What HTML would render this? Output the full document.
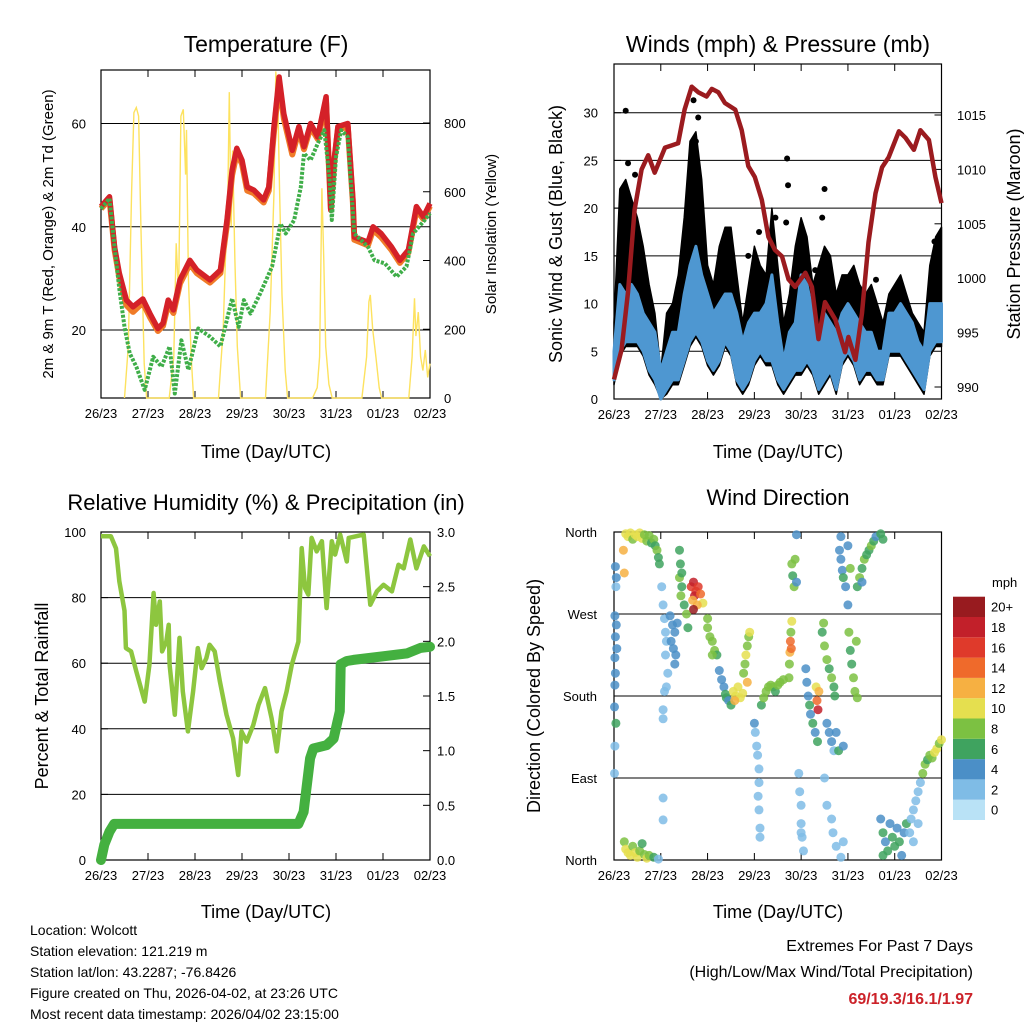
<!DOCTYPE html>
<html><head><meta charset="utf-8"><style>
html,body{margin:0;padding:0;background:#fff;}
svg{display:block;font-family:"Liberation Sans",Arial,sans-serif;}
</style></head><body>
<svg id="c" width="1024" height="1024" viewBox="0 0 1024 1024" xmlns="http://www.w3.org/2000/svg">
<g><text x="266" y="52" font-size="23" text-anchor="middle">Temperature (F)</text></g>
<g><text x="778" y="52" font-size="23" text-anchor="middle">Winds (mph) &amp; Pressure (mb)</text></g>
<g><text x="266" y="510" font-size="22" text-anchor="middle">Relative Humidity (%) &amp; Precipitation (in)</text></g>
<g><text x="778" y="505" font-size="22" text-anchor="middle">Wind Direction</text></g>
<text transform="translate(53,234) rotate(-90)" font-size="15" text-anchor="middle">2m &amp; 9m T (Red, Orange) &amp; 2m Td (Green)</text>
<text transform="translate(496,234) rotate(-90)" font-size="15" text-anchor="middle">Solar Insolation (Yellow)</text>
<text transform="translate(562,234) rotate(-90)" font-size="18" text-anchor="middle">Sonic Wind &amp; Gust (Blue, Black)</text>
<text transform="translate(1020,234) rotate(-90)" font-size="18" text-anchor="middle">Station Pressure (Maroon)</text>
<text transform="translate(48,696) rotate(-90)" font-size="18" text-anchor="middle">Percent &amp; Total Rainfall</text>
<text transform="translate(540,696) rotate(-90)" font-size="18" text-anchor="middle">Direction (Colored By Speed)</text>
<text x="266" y="458" font-size="18" text-anchor="middle">Time (Day/UTC)</text>
<text x="778" y="458" font-size="18" text-anchor="middle">Time (Day/UTC)</text>
<text x="266" y="918" font-size="18" text-anchor="middle">Time (Day/UTC)</text>
<text x="778" y="918" font-size="18" text-anchor="middle">Time (Day/UTC)</text>
<g font-size="14">
<text x="30" y="935">Location: Wolcott</text>
<text x="30" y="956">Station elevation: 121.219 m</text>
<text x="30" y="977">Station lat/lon: 43.2287; -76.8426</text>
<text x="30" y="998">Figure created on Thu, 2026-04-02, at 23:26 UTC</text>
<text x="30" y="1019">Most recent data timestamp: 2026/04/02 23:15:00</text>
</g>
<g font-size="16" text-anchor="end">
<text x="973" y="951">Extremes For Past 7 Days</text>
<text x="973" y="977">(High/Low/Max Wind/Total Precipitation)</text>
<text x="973" y="1004" fill="#cc2229" font-weight="bold">69/19.3/16.1/1.97</text>
</g>
<g id="layers"></g>
</svg>
<script>
const dayLabels=["26/23","27/23","28/23","29/23","30/23","31/23","01/23","02/23"];
// Temperature
const tempT=[0,0.18,0.29,0.39,0.54,0.68,0.89,1.04,1.21,1.32,1.43,1.54,1.68,1.89,2.04,2.32,2.54,2.68,2.79,2.89,3.0,3.11,3.25,3.46,3.57,3.68,3.79,3.89,4.07,4.21,4.32,4.46,4.61,4.79,4.89,4.96,5.04,5.25,5.36,5.39,5.68,5.79,5.96,6.18,6.36,6.54,6.71,6.86,7.0];
const temp2m=[43.9,45.8,36,31,25.8,24.5,26,23.2,20.3,21.3,25.8,23.9,29.7,33.5,31.6,29.7,31.6,41.3,51,55.2,52.9,47.7,47.1,45.2,47.7,59.4,69,61.9,54.8,59.4,55.5,60,57.4,65.2,43.2,52.9,59.4,60,45.2,38,37,40,38.7,36.1,33.5,35.5,43.9,41.9,44.5];
const temp9m=[43.5,45.3,35.5,30.2,24.8,23.5,25.3,22.5,19.8,20.8,25,23.3,29,32.8,31,29.2,31,40.5,50,54.3,52.2,47,46.5,44.7,47,58.5,68,61,54,58.7,55,59.3,57,64,43.5,52.3,58.8,59.4,44.7,37.5,36.4,39.4,38,35.5,33,35,43.2,41.5,44];
const dewT=[0,0.18,0.29,0.39,0.5,0.61,0.75,0.93,1.11,1.29,1.46,1.57,1.71,1.86,2.07,2.32,2.54,2.79,2.93,3.04,3.18,3.39,3.64,3.82,3.93,4.11,4.25,4.32,4.46,4.61,4.75,4.86,4.91,5.0,5.11,5.25,5.39,5.68,5.82,6.04,6.29,6.5,6.64,6.89,7.0];
const dewVal=[43.5,45.5,36,28,20.6,15.5,12.9,8.4,14.8,12.9,16.8,7.7,18,12.3,20.3,18.7,16.8,26.1,20.6,25.8,23.2,27.1,32.3,40.6,38.7,41.3,47.7,54.2,52.9,56.1,58.7,49.7,41.3,53.5,58.7,57.4,38.7,36.1,33.5,32.9,30.3,32.3,38.7,41.3,42.6];
const solarT=[0.5,0.58,0.65,0.7,0.75,0.8,0.85,0.92,0.97,1.45,1.55,1.6,1.65,1.7,1.75,1.8,1.82,1.86,1.92,1.97,2.5,2.6,2.65,2.7,2.73,2.77,2.8,2.85,2.9,2.97,3.5,3.6,3.68,3.72,3.76,3.8,3.85,3.92,3.97,4.5,4.6,4.65,4.7,4.74,4.78,4.85,4.92,5.55,5.65,5.7,5.73,5.78,5.85,5.92,5.97,6.55,6.62,6.67,6.7,6.75,6.8,6.85,6.9,6.95,7.0];
const solarVal=[0,150,600,830,845,820,500,100,0,0,120,450,300,820,840,650,780,350,120,0,0,200,420,600,890,500,720,400,150,0,0,250,600,950,880,600,300,80,0,0,30,120,610,400,150,40,0,0,120,280,300,200,120,30,0,0,120,290,180,250,120,80,140,60,100];
// Winds
const windLo=[2,5,6,6,6,5,3,2,0,1,2,2,4,6,7,6,4,3,4,6,5,2,1,2,4,5,4,4,2,1,2,3,3,4,3,1,2,3,1,4,5,4,2,3,3,2,2,5,5,5,4,3,2,1,5,6,6];
const windHi=[5,12,11,12,11,9,8,7,3,5,7,7,11,14,16,13,11,9,10,11,11,9,6,8,9,9,10,13,8,4,7,8,13,12,9,7,9,8,7,9,10,9,8,7,7,5,5,9,9,10,9,8,6,5,10,10,10];
const gustHi=[8,22,23,21,19,16,12,9,3,9,10,13,19,27,28,23,14,12,16,18,18,13,8,12,16,14,13,20,14,8,11,16,19,17,12,14,16,15,11,13,13,14,12,11,12,10,8,11,12,13,11,9,8,7,14,17,18];
const gustOutT=[0.25,0.3,1.7,1.8,1.75,2.87,3.7,3.72,3.68,4.5,4.45,6.85,5.6,4.3,0.2,1.65,0.45,3.1,3.45];
const gustOutV=[30.2,24.7,31.3,29.5,27,15,25.2,22.4,18.5,22,19,16.5,12.5,13.5,19,25,23.5,17.5,19];
const presT=[0,0.16,0.3,0.44,0.59,0.73,0.87,1.09,1.23,1.37,1.51,1.66,1.8,1.98,2.09,2.23,2.37,2.59,2.73,2.87,3.01,3.16,3.3,3.44,3.59,3.73,3.87,4.09,4.23,4.37,4.51,4.73,4.94,5.01,5.16,5.3,5.44,5.59,5.73,5.87,6.09,6.23,6.41,6.55,6.73,6.87,7.0];
const presVal=[990.7,993.4,998.7,1006.3,1010,1011.3,1009.7,1012,1012.2,1012.4,1015.5,1017.6,1017.1,1016.7,1017.4,1017.1,1016.1,1015.5,1013.6,1010.3,1009.3,1007.2,1003.8,1002.6,1002,999.9,999.2,1000.5,999.2,994.4,997.8,996.2,993.2,994.6,992.5,996.8,1003.3,1007.8,1010.2,1011.1,1013.5,1012.9,1011.8,1013.6,1012.7,1009.3,1006.9];
// RH & precip
const rhT=[0,0.21,0.32,0.39,0.5,0.53,0.64,0.75,0.93,1.03,1.12,1.17,1.25,1.3,1.39,1.44,1.46,1.57,1.67,1.74,1.85,1.96,2.06,2.14,2.24,2.31,2.42,2.53,2.67,2.81,2.92,2.99,3.1,3.24,3.35,3.49,3.63,3.74,3.84,3.95,4.06,4.2,4.27,4.34,4.41,4.48,4.59,4.7,4.8,4.91,4.98,5.09,5.23,5.27,5.59,5.73,5.87,6.01,6.19,6.33,6.44,6.58,6.71,6.87,7.0];
const rhVal=[98.7,98.7,95,85,76,64.6,63.6,57.5,48.3,59.5,81.4,71.7,78.8,63.6,66.6,71.7,59.5,44.3,67.7,51.4,39.2,51.4,64.6,58.5,61.5,65.6,63.6,54.4,44.3,37.1,25.9,39.2,36.1,41.2,47.3,52.4,43.2,33.1,45.3,51.4,59.5,66.6,95.1,82.9,80.9,98.2,94.1,97.2,76.8,97.2,93.1,99.2,91,98.2,99.2,77.8,81.9,83.9,81.9,90,88.9,97.7,88.9,95.6,92.6];
const prT=[0,0.07,0.18,0.28,4.2,4.31,4.45,4.52,4.8,4.95,5.08,5.09,5.1,5.23,5.37,6.51,6.8,7.0];
const prVal=[0,0.14,0.26,0.33,0.33,0.44,0.93,1.02,1.05,1.11,1.36,1.54,1.79,1.82,1.83,1.89,1.94,1.95];
// Wind direction
const dirT=[0.25,0.3,0.35,0.4,0.45,0.5,0.55,0.6,0.65,0.7,0.75,0.8,0.85,0.88,0.92,0.95,0.97,0.2,0.22,
0.03,0.05,0.04,0.02,0.05,0.03,0.06,0.02,0.03,0.02,0.01,0.04,0.02,0.01,
0.22,0.25,0.3,0.35,0.4,0.45,0.5,0.55,0.6,0.65,0.7,0.75,0.85,0.95,
1.02,1.05,1.08,1.1,1.12,1.1,1.15,1.12,1.08,1.05,1.05,1.05,1.05,
1.2,1.25,1.3,1.22,1.27,1.32,1.3,1.35,
1.4,1.42,1.4,1.45,1.43,1.5,1.55,1.58,1.45,
1.65,1.7,1.75,1.8,1.72,1.85,1.68,1.9,1.78,1.7,
2.0,2.0,2.05,2.1,2.15,2.2,2.1,
2.25,2.3,2.35,2.38,2.4,2.45,2.5,
2.55,2.6,2.65,2.7,2.58,2.75,
2.77,2.8,2.82,2.85,2.88,2.9,2.85,
3.0,3.02,3.05,3.07,3.1,3.1,3.08,3.1,3.12,3.12,
3.15,3.2,3.25,3.3,3.35,3.4,3.45,3.5,3.55,3.62,
3.74,3.75,3.76,3.77,3.78,3.8,3.79,
3.8,3.82,3.85,3.87,3.9,3.9,
3.95,3.97,4.0,4.0,4.02,4.05,4.0,
4.1,4.12,4.15,4.18,4.2,4.25,4.3,4.32,4.34,4.36,4.38,4.35,
4.45,4.5,4.55,4.6,4.65,4.7,4.72,4.48,
4.55,4.6,4.65,4.7,4.75,4.8,4.9,
4.82,4.85,4.88,4.9,4.95,4.85,5.0,5.05,5.0,
5.02,5.05,5.08,5.12,5.15,5.2,5.18,
4.5,4.55,4.65,4.68,4.75,4.85,4.9,
5.2,5.25,5.3,5.35,5.4,5.45,5.5,5.55,5.6,5.7,5.75,5.3,
5.7,5.75,5.8,5.85,5.9,5.95,6.0,6.05,6.1,6.15,6.2,6.25,5.75,
6.32,6.35,6.4,6.45,6.5,6.55,6.4,6.5,
6.6,6.65,6.7,6.75,6.8,6.85,6.9,6.95,7.0];
const dirDeg=[358,355,359,352,357,355,359,353,357,350,356,348,352,345,340,332,325,340,315,
322,310,300,268,258,245,232,222,205,192,168,150,125,95,
20,12,8,5,15,8,3,10,18,6,2,5,3,1,
300,280,265,250,240,225,205,190,185,165,155,68,44,
268,258,250,240,232,225,215,260,
340,325,310,300,290,280,270,255,315,
300,305,295,300,290,292,285,282,280,275,
265,255,245,240,230,225,225,
208,198,190,182,178,175,170,
185,180,190,178,175,183,
205,215,225,235,245,250,195,
150,140,125,115,100,85,70,55,35,25,
170,178,185,190,192,190,185,192,195,198,
200,215,228,240,250,262,232,
325,312,300,330,305,357,
95,75,60,40,25,10,30,
210,195,180,170,160,150,140,190,175,165,185,130,
250,235,220,210,200,190,180,260,
150,140,130,120,140,120,125,
340,330,318,310,300,355,345,320,280,
250,230,215,200,185,178,240,
90,60,45,30,15,3,20,
300,310,320,330,335,340,345,350,355,358,352,305,
45,30,20,10,40,25,15,35,20,5,30,40,5,
30,45,55,65,75,85,20,40,
95,105,110,115,112,118,122,128,132];
const dirSpd=[9,10,9,8,10,9,10,9,8,7,7,6,7,6,7,6,6,12,12,
4,3,2,4,4,3,4,4,4,4,3,5,2,2,
8,10,9,10,7,9,10,8,6,7,9,7,6,2,
1,1,2,2,1,2,2,2,1,1,1,1,1,
3,4,4,3,4,3,3,4,
6,6,7,6,7,6,7,6,5,
16,18,16,15,17,13,11,10,12,19,
7,7,8,7,7,6,8,
4,4,4,5,6,4,5,
10,9,10,10,12,9,
7,8,10,8,7,10,12,
3,2,2,2,2,1,2,2,2,1,
6,7,8,7,8,7,6,8,7,8,
8,8,12,14,8,10,13,
7,6,8,7,4,4,
2,1,2,2,2,2,1,
4,4,4,5,4,6,4,10,14,17,12,6,
6,7,7,6,7,6,5,8,
4,3,4,2,4,5,3,
4,4,4,6,4,4,4,7,4,
7,6,6,7,8,7,8,
2,1,2,1,1,1,1,
6,7,6,7,6,6,7,6,4,6,5,4,
4,6,4,6,4,5,6,4,6,4,4,5,6,
2,2,2,2,2,2,2,2,
7,7,6,8,7,9,9,8,10];
const cbLabels=["0","2","4","6","8","10","12","14","16","18","20+"];
const cbColors=["#b9e2f6","#7fbce6","#4b8fc7","#3fa35f","#7cc142","#e5df4f","#f6b042","#ef6a2b","#df3a2b","#c2202a","#981b1f"];

const NS="http://www.w3.org/2000/svg";
const root=document.getElementById('layers');
function lin(d0,d1,r0,r1){return v=>r0+(v-d0)*(r1-r0)/(d1-d0);}
function mk(tag,attrs,parent){const e=document.createElementNS(NS,tag);for(const k in attrs)e.setAttribute(k,attrs[k]);(parent||root).appendChild(e);return e;}
function group(name){const g=mk('g',{});


return g;}
function pathFrom(ts,vs,x,y){return ts.map((t,i)=>(i?'L':'M')+x(t).toFixed(1)+','+y(vs[i]).toFixed(1)).join('');}
function frame(name,x0,y0,x1,y1,x){
  const g=group(name);
  mk('rect',{x:x0,y:y0,width:x1-x0,height:y1-y0,fill:'none',stroke:'#000','stroke-width':1.2},g);
  dayLabels.forEach((l,i)=>{const xx=x(i);
    mk('line',{x1:xx,y1:y1,x2:xx,y2:y1-7,stroke:'#000'},g);
    mk('line',{x1:xx,y1:y0,x2:xx,y2:y0+7,stroke:'#000'},g);
    const t=mk('text',{x:xx,y:y1+20,'font-size':13,'text-anchor':'middle'},g);t.textContent=l;
    
    
  });
  return g;
}
function ticks(g,vals,labels,yf,xPos,anchor,tickX,dir,grid,gx0,gx1){
  vals.forEach((v,i)=>{const yy=yf(v);
    if(grid)mk('line',{x1:gx0,y1:yy,x2:gx1,y2:yy,stroke:'#000','stroke-width':1},g);
    mk('line',{x1:tickX,y1:yy,x2:tickX+dir*7,y2:yy,stroke:'#000'},g);
    const t=mk('text',{x:xPos,y:yy+5,'font-size':13,'text-anchor':anchor},g);t.textContent=labels[i];
    
    
  });
}
// Panel 1
(function(){
  const x=lin(0,7,101,430),yT=lin(20,60,330,123.5),yS=lin(0,800,398,123);
  const g=frame('temperature-chart',101,70,430,398,x);
  ticks(g,[20,40,60],["20","40","60"],yT,86,'end',101,1,true,101,430);
  ticks(g,[0,200,400,600,800],["0","200","400","600","800"],yS,444,'start',430,-1,false);
  const s=mk('path',{d:pathFrom(solarT,solarVal,x,yS),fill:'none',stroke:'#fde25f','stroke-width':1.4},g);
  
  
  const o=mk('path',{d:pathFrom(tempT,temp9m,x,yT),fill:'none',stroke:'#f07b28','stroke-width':6,'stroke-linejoin':'round'},g);
  
  
  const r=mk('path',{d:pathFrom(tempT,temp2m,x,yT),fill:'none',stroke:'#d42128','stroke-width':5.5,'stroke-linejoin':'round'},g);
  
  
  const d=mk('path',{d:pathFrom(dewT,dewVal,x,yT),fill:'none',stroke:'#3fae49','stroke-width':4,'stroke-dasharray':'3 1.5','stroke-linejoin':'round'},g);
  
  
})();
// Panel 2
(function(){
  const x=lin(0,7,614,941.5),yW=lin(0,30,399,112.7),yP=lin(990,1015,387,115);
  const g=frame('winds-chart',614,64,941.5,399,x);
  ticks(g,[0,5,10,15,20,25,30],["0","5","10","15","20","25","30"],yW,598,'end',614,1,true,614,941.5);
  ticks(g,[990,995,1000,1005,1010,1015],["990","995","1000","1005","1010","1015"],yP,957,'start',941.5,-1,false);
  const tt=windLo.map((_,i)=>i*0.125);
  const gp=pathFrom(tt,gustHi,x,yW)+tt.slice().reverse().map((t,i)=>'L'+x(t).toFixed(1)+','+yW(Math.max(0,windLo[windLo.length-1-i]-0.5)).toFixed(1)).join('')+'Z';
  const gb=mk('path',{d:gp,fill:'#000',stroke:'#000','stroke-width':1.5,'stroke-linejoin':'round'},g);
  
  
  gustOutT.forEach((t,i)=>{const c=mk('circle',{cx:x(t),cy:yW(gustOutV[i]),r:3,fill:'#000'},g);
    
    });
  const wp=pathFrom(tt,windHi,x,yW)+tt.slice().reverse().map((t,i)=>'L'+x(t).toFixed(1)+','+yW(windLo[windLo.length-1-i]).toFixed(1)).join('')+'Z';
  const wb=mk('path',{d:wp,fill:'#4e97d1',stroke:'#4e97d1','stroke-width':3,'stroke-linejoin':'round'},g);
  
  
  const p=mk('path',{d:pathFrom(presT,presVal,x,yP),fill:'none',stroke:'#9b1b1f','stroke-width':4.5,'stroke-linejoin':'round'},g);
  
  
})();
// Panel 3
(function(){
  const x=lin(0,7,101,430),yR=lin(0,100,860,532),yPr=lin(0,3,860,532);
  const g=frame('humidity-chart',101,532,430,860,x);
  ticks(g,[0,20,40,60,80,100],["0","20","40","60","80","100"],yR,86,'end',101,1,true,101,430);
  ticks(g,[0,0.5,1,1.5,2,2.5,3],["0.0","0.5","1.0","1.5","2.0","2.5","3.0"],yPr,437,'start',430,-1,false);
  const r=mk('path',{d:pathFrom(rhT,rhVal,x,yR),fill:'none',stroke:'#8dc63f','stroke-width':4.5,'stroke-linejoin':'round'},g);
  
  
  const p=mk('path',{d:pathFrom(prT,prVal,x,yPr),fill:'none',stroke:'#44b040','stroke-width':10,'stroke-linejoin':'round','stroke-linecap':'round'},g);
  
  
})();
// Panel 4
(function(){
  const x=lin(0,7,614,941.5),yD=lin(0,360,860,532);
  const g=frame('wind-direction-chart',614,532,941.5,860,x);
  ticks(g,[0,90,180,270,360],["North","East","South","West","North"],yD,597,'end',614,1,true,614,941.5);
  dirT.forEach((t,i)=>{const idx=Math.min(10,Math.round(dirSpd[i]/2));
    const c=mk('circle',{cx:x(t).toFixed(1),cy:yD(dirDeg[i]).toFixed(1),r:4.5,fill:cbColors[idx],'fill-opacity':0.85},g);
    
    });
  const cb=group('speed-colorbar');
  const t=mk('text',{x:992,y:587,'font-size':13},cb);t.textContent='mph';
  cbColors.forEach((col,i)=>{const yy=820-(i+1)*20.3;
    mk('rect',{x:953,y:yy,width:32,height:20.3,fill:col},cb);
    const l=mk('text',{x:991,y:yy+15,'font-size':13},cb);l.textContent=cbLabels[i];
    
    });
})();
</script>
</body></html>
